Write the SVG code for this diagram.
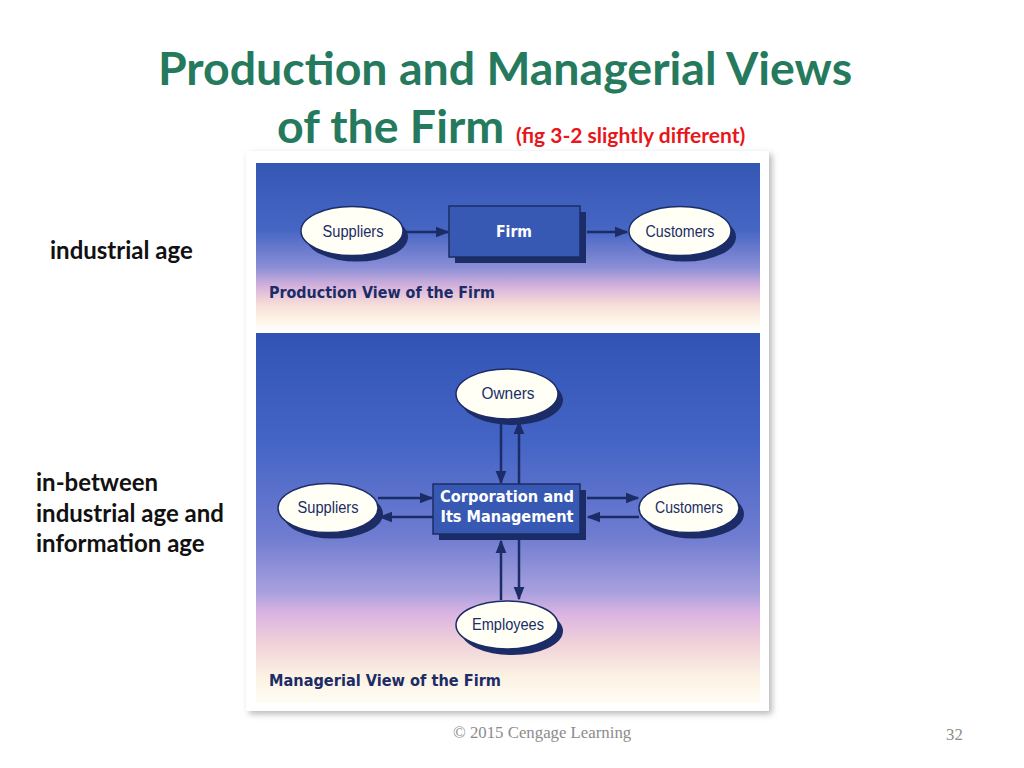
<svg xmlns="http://www.w3.org/2000/svg" width="1024" height="768" viewBox="0 0 1024 768">
<defs>
<linearGradient id="gTop" x1="0" y1="0" x2="0" y2="1">
<stop offset="0" stop-color="#3557b4"/>
<stop offset="0.4" stop-color="#4666c4"/>
<stop offset="0.62" stop-color="#8a8ed6"/>
<stop offset="0.74" stop-color="#d8b4dc"/>
<stop offset="0.84" stop-color="#f6dcd8"/>
<stop offset="0.93" stop-color="#fdf4e6"/>
<stop offset="1" stop-color="#ffffff"/>
</linearGradient>
<linearGradient id="gBot" x1="0" y1="0" x2="0" y2="1">
<stop offset="0" stop-color="#3154b4"/>
<stop offset="0.3" stop-color="#4565c6"/>
<stop offset="0.55" stop-color="#6f7cd0"/>
<stop offset="0.7" stop-color="#a8a0de"/>
<stop offset="0.76" stop-color="#dcb4e2"/>
<stop offset="0.84" stop-color="#f0d2d8"/>
<stop offset="0.93" stop-color="#fcf2e4"/>
<stop offset="1" stop-color="#fffcf4"/>
</linearGradient>
<filter id="soft" x="-5%" y="-5%" width="110%" height="110%">
<feGaussianBlur stdDeviation="3"/>
</filter>
<marker id="ah" viewBox="0 0 10 10" refX="9" refY="5" markerWidth="5.5" markerHeight="5.5" orient="auto" markerUnits="strokeWidth">
<path d="M0,1 L10,5 L0,9 z" fill="#1b2c66"/>
</marker>
</defs>
<style>
.title{font-family:Lato,"Liberation Sans",sans-serif;font-weight:bold;fill:#257a5e;font-size:46.5px}
.sub{font-family:Lato,"Liberation Sans",sans-serif;font-weight:bold;fill:#e8161b;font-size:21px}
.side{font-family:Lato,"Liberation Sans",sans-serif;font-weight:bold;fill:#111;font-size:24px}
.foot{font-family:"Liberation Serif",serif;fill:#8c8c8c;font-size:16.8px}
.ell{fill:#fffff6;stroke:#1b2c66;stroke-width:1.5}
.esh{fill:#1b2c66}
.box{fill:#3759b3;stroke:#1b2c66;stroke-width:1.5}
.bsh{fill:#1b2c66}
.lbl{font-family:"Liberation Sans",sans-serif;fill:#1b2c66;font-size:16px;text-anchor:middle}
.blbl{font-family:"DejaVu Sans","Liberation Sans",sans-serif;font-weight:bold;fill:#ffffff;font-size:16.5px;text-anchor:middle}
.cap{font-family:"DejaVu Sans","Liberation Sans",sans-serif;font-weight:bold;fill:#1b2c66;font-size:16.5px}
.arr{stroke:#1b2c66;stroke-width:2.5;fill:none;marker-end:url(#ah)}
</style>
<rect width="1024" height="768" fill="#ffffff"/>
<!-- title -->
<text class="title" x="505" y="85" text-anchor="middle">Production and Managerial Views</text>
<text class="title" x="277" y="143">of the Firm</text>
<text class="sub" x="516" y="143">(fig 3-2 slightly different)</text>
<!-- side labels -->
<text class="side" x="50" y="259">industrial age</text>
<text class="side" x="36" y="491">in-between</text>
<text class="side" x="36" y="522">industrial age and</text>
<text class="side" x="36" y="552">information age</text>
<!-- picture frame -->
<rect x="249" y="154" width="523" height="560" fill="#b8b8b8" filter="url(#soft)"/>
<rect x="246" y="151" width="523" height="560" fill="#ffffff"/>
<rect x="256" y="163" width="504" height="168" fill="url(#gTop)"/>
<rect x="256" y="333" width="504" height="370" fill="url(#gBot)"/>
<!-- connectors -->
<g id="connectors">
<line class="arr" x1="405" y1="232" x2="448" y2="232"/>
<line class="arr" x1="587" y1="232" x2="627" y2="232"/>
<line class="arr" x1="501" y1="421" x2="501" y2="483"/>
<line class="arr" x1="519" y1="484" x2="519" y2="422"/>
<line class="arr" x1="501" y1="600" x2="501" y2="541"/>
<line class="arr" x1="519" y1="540" x2="519" y2="599"/>
<line class="arr" x1="378" y1="498" x2="432" y2="498"/>
<line class="arr" x1="433" y1="517" x2="380" y2="517"/>
<line class="arr" x1="587" y1="498" x2="638" y2="498"/>
<line class="arr" x1="639" y1="517" x2="588" y2="517"/>
</g>
<!-- production view -->
<g id="p-suppliers">
<ellipse class="esh" cx="357" cy="237" rx="51" ry="24.5"/>
<ellipse class="ell" cx="352" cy="231" rx="51" ry="24.5"/>
<text class="lbl" x="353" y="237" textLength="61" lengthAdjust="spacingAndGlyphs">Suppliers</text>
</g>
<g id="p-firm">
<rect class="bsh" x="455" y="212" width="131" height="51"/>
<rect class="box" x="449" y="206" width="131" height="51"/>
<text class="blbl" x="514" y="237" textLength="36" lengthAdjust="spacingAndGlyphs">Firm</text>
</g>
<g id="p-customers">
<ellipse class="esh" cx="685" cy="237" rx="51" ry="24.5"/>
<ellipse class="ell" cx="680" cy="231" rx="51" ry="24.5"/>
<text class="lbl" x="680" y="237" textLength="69" lengthAdjust="spacingAndGlyphs">Customers</text>
</g>
<text class="cap" x="269" y="298" textLength="226" lengthAdjust="spacingAndGlyphs">Production View of the Firm</text>
<!-- managerial view -->
<g id="m-owners">
<ellipse class="esh" cx="512" cy="400" rx="51" ry="25"/>
<ellipse class="ell" cx="507" cy="394" rx="51" ry="25"/>
<text class="lbl" x="508" y="399" textLength="53" lengthAdjust="spacingAndGlyphs">Owners</text>
</g>
<g id="m-suppliers">
<ellipse class="esh" cx="333" cy="514" rx="50" ry="24.5"/>
<ellipse class="ell" cx="328" cy="508" rx="50" ry="24.5"/>
<text class="lbl" x="328" y="513" textLength="61" lengthAdjust="spacingAndGlyphs">Suppliers</text>
</g>
<g id="m-corp">
<rect class="bsh" x="439" y="490" width="147" height="50"/>
<rect class="box" x="433" y="484" width="147" height="50"/>
<text class="blbl" x="507" y="502" textLength="134" lengthAdjust="spacingAndGlyphs">Corporation and</text>
<text class="blbl" x="507" y="522" textLength="133" lengthAdjust="spacingAndGlyphs">Its Management</text>
</g>
<g id="m-customers">
<ellipse class="esh" cx="694" cy="514" rx="50" ry="24.5"/>
<ellipse class="ell" cx="689" cy="508" rx="50" ry="24.5"/>
<text class="lbl" x="689" y="513" textLength="68" lengthAdjust="spacingAndGlyphs">Customers</text>
</g>
<g id="m-employees">
<ellipse class="esh" cx="512" cy="631" rx="51" ry="24"/>
<ellipse class="ell" cx="507" cy="625" rx="51" ry="24"/>
<text class="lbl" x="508" y="630" textLength="72" lengthAdjust="spacingAndGlyphs">Employees</text>
</g>
<text class="cap" x="269" y="686" textLength="232" lengthAdjust="spacingAndGlyphs">Managerial View of the Firm</text>
<!-- footer -->
<text class="foot" x="453" y="738">© 2015 Cengage Learning</text>
<text class="foot" x="946" y="740">32</text>
</svg>
